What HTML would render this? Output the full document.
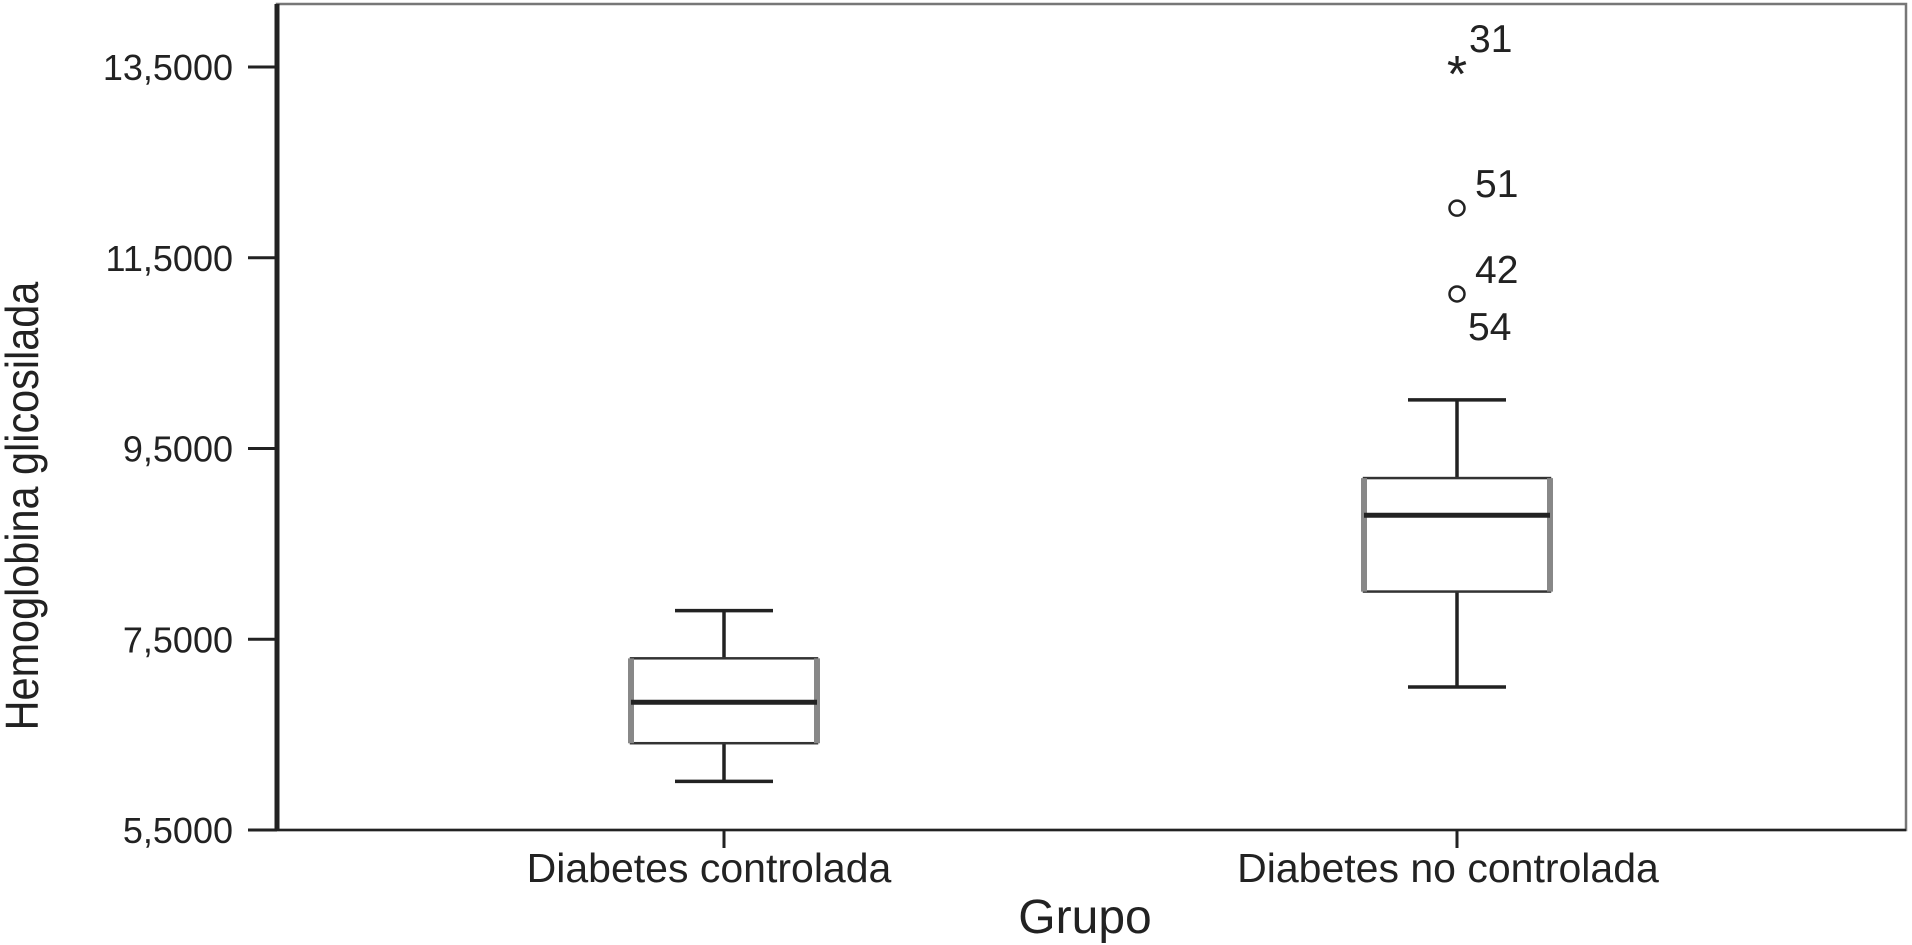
<!DOCTYPE html>
<html><head><meta charset="utf-8"><style>
html,body{margin:0;padding:0;background:#fff;}
svg{display:block;font-family:"Liberation Sans",sans-serif;}
</style></head><body>
<svg id="chart" width="1912" height="945" viewBox="0 0 1912 945"></svg>
<script>
const categories=["Diabetes controlada","Diabetes no controlada"];
const whiskerLow=[6.01,7.00];
const q1=[6.41,8.00];
const median=[6.84,8.80];
const q3=[7.30,9.19];
const whiskerHigh=[7.80,10.01];
const outlierValues=[13.53,12.02,11.12];
const outlierLabels=["31","51","42"];
const outlierExtraLabel="54";
const outlierSymbols=["star","circle","circle"];
const yTicks=[5.5,7.5,9.5,11.5,13.5];
const yTickLabels=["5,5000","7,5000","9,5000","11,5000","13,5000"];

const NS="http://www.w3.org/2000/svg";
const svg=document.getElementById('chart');
const L=277,R=1906,T=4,B=830,yMin=5.5,yMax=13.5,y0=67;
function y(v){return B-(v-yMin)/(yMax-yMin)*(B-y0);}
const centers=[724,1457];
const labelShift=[-15,-9];
function x(i){return centers[i];}
function el(tag,a,parent){const e=document.createElementNS(NS,tag);for(const k in a)e.setAttribute(k,a[k]);(parent||svg).appendChild(e);return e;}

let frame=el('rect',{x:L,y:T,width:R-L,height:B-T,fill:'none',stroke:'#777',"stroke-width":2.5});


let axL=el('line',{x1:L,y1:T,x2:L,y2:B,stroke:'#222',"stroke-width":5});


let axB=el('line',{x1:L,y1:B,x2:R,y2:B,stroke:'#222',"stroke-width":2.5});



yTicks.forEach((v,i)=>{
  const t=el('line',{x1:248,y1:y(v),x2:L,y2:y(v),stroke:'#222',"stroke-width":3});
  
  
  const tx=el('text',{x:233,y:y(v)+13,"text-anchor":"end","font-size":36,fill:'#222'});
  tx.textContent=yTickLabels[i];
  
  
});

categories.forEach((c,i)=>{
  const cx=x(i),hw=93,cw=49;
  const g=el('g',{});
  
  
  el('line',{x1:cx,y1:B,x2:cx,y2:B+18,stroke:'#222',"stroke-width":3},g);
  el('line',{x1:cx,y1:y(whiskerLow[i]),x2:cx,y2:y(q1[i]),stroke:'#222',"stroke-width":3.5},g);
  el('line',{x1:cx,y1:y(q3[i]),x2:cx,y2:y(whiskerHigh[i]),stroke:'#222',"stroke-width":3.5},g);
  el('line',{x1:cx-cw,y1:y(whiskerLow[i]),x2:cx+cw,y2:y(whiskerLow[i]),stroke:'#222',"stroke-width":3.5},g);
  el('line',{x1:cx-cw,y1:y(whiskerHigh[i]),x2:cx+cw,y2:y(whiskerHigh[i]),stroke:'#222',"stroke-width":3.5},g);
  el('rect',{x:cx-hw,y:y(q3[i]),width:2*hw,height:y(q1[i])-y(q3[i]),fill:'#fff',stroke:'#333',"stroke-width":2.5},g);
  el('line',{x1:cx-hw,y1:y(q3[i]),x2:cx-hw,y2:y(q1[i]),stroke:'#888',"stroke-width":6},g);
  el('line',{x1:cx+hw,y1:y(q3[i]),x2:cx+hw,y2:y(q1[i]),stroke:'#888',"stroke-width":6},g);
  el('line',{x1:cx-hw,y1:y(median[i]),x2:cx+hw,y2:y(median[i]),stroke:'#222',"stroke-width":5},g);
  const lab=el('text',{x:cx+labelShift[i],y:882,"text-anchor":"middle","font-size":41,fill:'#222'});
  lab.textContent=c;
  
  
});

outlierValues.forEach((v,i)=>{
  const cx=x(1),cy=y(v);
  if(outlierSymbols[i]==='star'){
    const s=el('text',{x:cx,y:cy+28,"text-anchor":"middle","font-size":52,fill:'#222'});
    s.textContent='*';
    
    
  }else{
    const c=el('circle',{cx:cx,cy:cy,r:7.5,fill:'none',stroke:'#222',"stroke-width":2.5});
    
    
  }
  const t=el('text',{x:cx+(i===0?12:18),y:cy-(i===0?12:11),"font-size":39,fill:'#222'});
  t.textContent=outlierLabels[i];
  
  
});
const t54=el('text',{x:x(1)+11,y:y(outlierValues[2])+46,"font-size":39,fill:'#222'});
t54.textContent=outlierExtraLabel;



const xt=el('text',{x:1085,y:933,"text-anchor":"middle","font-size":48,fill:'#222'});
xt.textContent='Grupo';


const yt=el('text',{x:0,y:0,"text-anchor":"middle","font-size":46,fill:'#222',transform:'translate(38,506) rotate(-90) scale(0.9,1)'});
yt.textContent='Hemoglobina glicosilada';


</script>
</body></html>
